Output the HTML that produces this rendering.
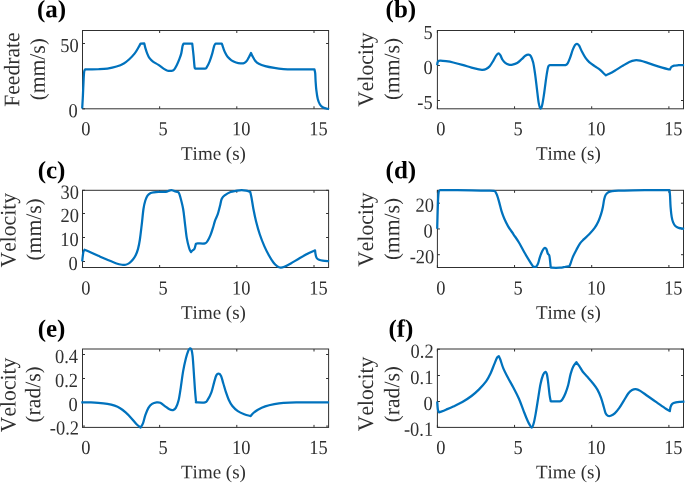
<!DOCTYPE html>
<html><head><meta charset="utf-8"><title>Figure</title>
<style>html,body{margin:0;padding:0;background:#fff}svg{display:block}</style></head>
<body>
<svg width="685" height="483" viewBox="0 0 685 483">
<rect width="685" height="483" fill="#fff"/>
<g font-family="'Liberation Serif', serif" fill="#303030" style="font-kerning:none">
<g stroke="#303030" stroke-width="1" fill="none">
<rect x="82.50" y="30.50" width="246.10" height="78.30"/>
<path d="M82.50 108.80 v-2.50 M82.50 30.50 v2.50 M159.65 108.80 v-2.50 M159.65 30.50 v2.50 M236.80 108.80 v-2.50 M236.80 30.50 v2.50 M314.00 108.80 v-2.50 M314.00 30.50 v2.50 M82.50 108.80 h2.50 M328.60 108.80 h-2.50 M82.50 43.50 h2.50 M328.60 43.50 h-2.50"/>
</g>
<path d="M82.19 108.48 C82.31 106.29 82.68 100.27 82.92 95.34 C83.16 90.42 83.44 82.87 83.65 78.92 C83.86 74.97 83.95 73.20 84.20 71.62 C84.44 70.04 84.96 69.80 85.11 69.43 C86.08 69.43 88.76 69.46 90.95 69.43 C93.14 69.40 95.51 69.40 98.25 69.25 C100.99 69.10 104.33 68.97 107.37 68.52 C110.41 68.06 113.76 67.36 116.50 66.51 C119.23 65.66 121.67 64.63 123.80 63.41 C125.92 62.19 127.45 60.88 129.27 59.21 C131.09 57.54 133.22 55.32 134.74 53.37 C136.27 51.43 137.42 49.18 138.39 47.53 C139.37 45.89 140.22 44.19 140.58 43.52 L144.23 43.34 C144.42 44.10 144.84 46.23 145.33 47.90 C145.82 49.57 146.48 51.70 147.15 53.37 C147.82 55.05 148.37 56.57 149.34 57.93 C150.32 59.30 151.47 60.43 152.99 61.58 C154.51 62.74 156.64 63.65 158.47 64.87 C160.29 66.09 162.42 67.91 163.94 68.88 C165.46 69.86 166.37 70.37 167.59 70.71 C168.81 71.04 170.18 71.04 171.24 70.89 C172.31 70.74 173.07 70.74 173.98 69.80 C174.89 68.85 175.80 67.06 176.72 65.23 C177.63 63.41 178.69 60.82 179.45 58.85 C180.21 56.87 180.76 55.50 181.28 53.37 C181.79 51.24 182.16 47.72 182.55 46.07 C182.95 44.43 183.47 43.94 183.65 43.52 L192.23 43.52 C192.44 45.46 193.11 51.27 193.50 55.20 C193.90 59.12 194.26 64.84 194.60 67.06 C194.93 69.28 195.36 68.27 195.51 68.52 C197.09 68.52 203.11 68.76 205.00 68.52 C206.89 68.27 206.06 68.21 206.82 67.06 C207.59 65.90 208.65 63.86 209.56 61.58 C210.47 59.30 211.54 55.96 212.30 53.37 C213.06 50.79 213.58 47.72 214.12 46.07 C214.67 44.43 215.34 43.94 215.58 43.52 L221.79 43.52 C222.03 44.25 222.70 46.41 223.25 47.90 C223.80 49.39 224.31 50.94 225.07 52.46 C225.83 53.98 226.75 55.71 227.81 57.02 C228.87 58.33 230.09 59.39 231.46 60.31 C232.83 61.22 234.50 61.98 236.02 62.50 C237.54 63.01 239.22 63.32 240.58 63.41 C241.95 63.50 243.17 63.50 244.23 63.04 C245.30 62.59 246.15 61.74 246.97 60.67 C247.79 59.61 248.49 57.93 249.16 56.66 C249.83 55.38 250.68 53.62 250.99 53.01 C251.23 53.52 251.75 54.83 252.45 56.11 C253.14 57.39 254.12 59.39 255.18 60.67 C256.25 61.95 257.16 62.86 258.83 63.77 C260.50 64.69 262.63 65.45 265.22 66.15 C267.80 66.85 271.30 67.48 274.34 67.97 C277.38 68.46 280.43 68.82 283.47 69.07 C286.51 69.31 287.42 69.37 292.59 69.43 C297.76 69.49 310.84 69.43 314.49 69.43 C314.61 70.10 315.04 71.56 315.22 73.45 C315.40 75.33 315.40 78.01 315.58 80.74 C315.77 83.48 315.95 86.83 316.31 89.87 C316.68 92.91 317.17 96.56 317.77 98.99 C318.38 101.43 319.14 103.10 319.96 104.47 C320.78 105.84 321.64 106.54 322.70 107.20 C323.77 107.87 325.29 108.18 326.35 108.48 C327.41 108.79 328.63 108.94 329.09 109.03" fill="none" stroke="#0072BD" stroke-width="2.25" stroke-linejoin="round" stroke-linecap="butt"/>
<text transform="translate(85.95 135.30) rotate(0.05) scale(0.97 1.055)" font-size="19" text-anchor="middle">0</text>
<text transform="translate(163.10 135.30) rotate(0.05) scale(0.97 1.055)" font-size="19" text-anchor="middle">5</text>
<text transform="translate(241.25 135.30) rotate(0.05) scale(0.97 1.055)" font-size="19" text-anchor="middle">10</text>
<text transform="translate(318.45 135.30) rotate(0.05) scale(0.97 1.055)" font-size="19" text-anchor="middle">15</text>
<text transform="translate(77.70 117.25) rotate(0.05) scale(0.97 1.055)" font-size="19" text-anchor="end">0</text>
<text transform="translate(78.80 51.95) rotate(0.05) scale(0.97 1.055)" font-size="19" text-anchor="end">50</text>
<text transform="translate(213.45 159.70) rotate(0.05)" font-size="19" text-anchor="middle">Time (s)</text>
<text transform="translate(19.20 69.60) rotate(-90.05) scale(0.975 1)" font-size="22.2" text-anchor="middle">Feedrate</text>
<text transform="translate(44.80 69.30) rotate(-90.05) scale(0.975 1)" font-size="22.2" text-anchor="middle"><tspan font-size="20.868" dy="-0.4">(</tspan><tspan dy="0.4" dx="0.2">mm/s</tspan><tspan font-size="20.868" dy="-0.4" dx="0.2">)</tspan></text>
<text transform="translate(51.50 17.20) rotate(0.05)" font-size="25" font-weight="bold" fill="#000" text-anchor="middle">(a)</text>
<g stroke="#303030" stroke-width="1" fill="none">
<rect x="437.40" y="30.50" width="246.10" height="78.30"/>
<path d="M437.40 108.80 v-2.50 M437.40 30.50 v2.50 M514.55 108.80 v-2.50 M514.55 30.50 v2.50 M591.70 108.80 v-2.50 M591.70 30.50 v2.50 M668.90 108.80 v-2.50 M668.90 30.50 v2.50 M437.40 100.50 h2.50 M683.50 100.50 h-2.50 M437.40 65.50 h2.50 M683.50 65.50 h-2.50 M437.40 30.50 h2.50 M683.50 30.50 h-2.50"/>
</g>
<path d="M437.19 65.23 C437.25 64.78 437.37 63.20 437.55 62.50 C437.74 61.80 438.16 61.28 438.28 61.04 C438.65 60.98 439.20 60.64 440.47 60.67 C441.75 60.70 443.82 60.91 445.95 61.22 C448.08 61.52 450.51 61.89 453.25 62.50 C455.99 63.10 459.33 64.02 462.37 64.87 C465.41 65.72 468.76 66.85 471.50 67.61 C474.23 68.37 476.97 69.07 478.80 69.43 C480.62 69.80 481.23 69.89 482.45 69.80 C483.66 69.70 484.88 69.49 486.09 68.88 C487.31 68.27 488.53 67.51 489.74 66.15 C490.96 64.78 492.33 62.44 493.39 60.67 C494.46 58.91 495.28 56.78 496.13 55.56 C496.98 54.35 497.80 53.43 498.50 53.37 C499.20 53.31 499.66 54.13 500.33 55.20 C501.00 56.26 501.70 58.48 502.52 59.76 C503.34 61.04 504.19 62.04 505.26 62.86 C506.32 63.68 507.69 64.38 508.91 64.69 C510.12 64.99 511.19 64.96 512.55 64.69 C513.92 64.41 515.60 63.96 517.12 63.04 C518.64 62.13 520.31 60.43 521.68 59.21 C523.05 58.00 524.20 56.50 525.33 55.74 C526.45 54.98 527.52 54.59 528.43 54.65 C529.34 54.71 530.01 54.80 530.80 56.11 C531.59 57.42 532.48 59.61 533.18 62.50 C533.87 65.39 534.39 69.19 535.00 73.45 C535.61 77.70 536.22 83.18 536.82 88.04 C537.43 92.91 538.04 99.24 538.65 102.64 C539.26 106.05 539.87 108.18 540.47 108.48 C541.08 108.79 541.69 106.96 542.30 104.47 C542.91 101.97 543.45 98.08 544.12 93.52 C544.79 88.96 545.64 81.50 546.31 77.09 C546.98 72.68 547.59 69.04 548.14 67.06 C548.69 65.08 549.36 65.54 549.60 65.23 C551.33 65.20 557.35 65.08 560.00 65.05 C562.65 65.02 564.20 65.32 565.47 65.05 C566.75 64.78 566.90 64.59 567.66 63.41 C568.42 62.22 569.18 60.22 570.04 57.93 C570.89 55.65 571.95 51.85 572.77 49.72 C573.59 47.59 574.26 46.13 574.96 45.16 C575.66 44.19 576.27 43.79 576.97 43.88 C577.67 43.97 578.34 44.43 579.16 45.71 C579.98 46.99 580.83 49.51 581.90 51.55 C582.96 53.59 584.33 56.17 585.55 57.93 C586.76 59.70 587.68 60.76 589.20 62.13 C590.72 63.50 592.85 64.87 594.67 66.15 C596.50 67.42 598.63 68.58 600.15 69.80 C601.67 71.01 602.82 72.53 603.80 73.45 C604.77 74.36 605.62 74.97 605.99 75.27 C606.53 75.03 607.81 74.57 609.27 73.81 C610.73 73.05 612.62 71.99 614.74 70.71 C616.87 69.43 619.61 67.61 622.04 66.15 C624.48 64.69 627.21 62.92 629.34 61.95 C631.47 60.98 632.99 60.52 634.82 60.31 C636.64 60.09 638.16 60.25 640.29 60.67 C642.42 61.10 645.16 62.07 647.59 62.86 C650.02 63.65 652.46 64.63 654.89 65.42 C657.32 66.21 660.06 67.00 662.19 67.61 C664.32 68.21 666.36 68.76 667.66 69.07 C668.97 69.37 669.64 69.37 670.04 69.43 C670.25 69.04 670.64 67.70 671.31 67.06 C671.98 66.42 672.83 65.90 674.05 65.60 C675.27 65.29 676.94 65.32 678.61 65.23 C680.29 65.14 683.18 65.08 684.09 65.05" fill="none" stroke="#0072BD" stroke-width="2.25" stroke-linejoin="round" stroke-linecap="butt"/>
<text transform="translate(440.85 135.30) rotate(0.05) scale(0.97 1.055)" font-size="19" text-anchor="middle">0</text>
<text transform="translate(518.00 135.30) rotate(0.05) scale(0.97 1.055)" font-size="19" text-anchor="middle">5</text>
<text transform="translate(596.15 135.30) rotate(0.05) scale(0.97 1.055)" font-size="19" text-anchor="middle">10</text>
<text transform="translate(673.35 135.30) rotate(0.05) scale(0.97 1.055)" font-size="19" text-anchor="middle">15</text>
<text transform="translate(432.60 108.95) rotate(0.05) scale(0.97 1.055)" font-size="19" text-anchor="end">-5</text>
<text transform="translate(432.60 73.95) rotate(0.05) scale(0.97 1.055)" font-size="19" text-anchor="end">0</text>
<text transform="translate(432.60 38.95) rotate(0.05) scale(0.97 1.055)" font-size="19" text-anchor="end">5</text>
<text transform="translate(568.35 159.70) rotate(0.05)" font-size="19" text-anchor="middle">Time (s)</text>
<text transform="translate(373.00 69.60) rotate(-90.05) scale(0.975 1)" font-size="22.2" text-anchor="middle">Velocity</text>
<text transform="translate(399.20 69.10) rotate(-90.05) scale(0.975 1)" font-size="22.2" text-anchor="middle"><tspan font-size="20.868" dy="-0.4">(</tspan><tspan dy="0.4" dx="0.2">mm/s</tspan><tspan font-size="20.868" dy="-0.4" dx="0.2">)</tspan></text>
<text transform="translate(400.90 17.20) rotate(0.05)" font-size="25" font-weight="bold" fill="#000" text-anchor="middle">(b)</text>
<g stroke="#303030" stroke-width="1" fill="none">
<rect x="82.50" y="190.30" width="246.10" height="77.20"/>
<path d="M82.50 267.50 v-2.50 M82.50 190.30 v2.50 M159.65 267.50 v-2.50 M159.65 190.30 v2.50 M236.80 267.50 v-2.50 M236.80 190.30 v2.50 M314.00 267.50 v-2.50 M314.00 190.30 v2.50 M82.50 261.50 h2.50 M328.60 261.50 h-2.50 M82.50 237.50 h2.50 M328.60 237.50 h-2.50 M82.50 213.50 h2.50 M328.60 213.50 h-2.50 M82.50 190.30 h2.50 M328.60 190.30 h-2.50"/>
</g>
<path d="M82.19 261.28 C82.37 259.82 82.89 254.43 83.28 252.52 C83.68 250.60 84.35 250.24 84.56 249.78 C85.63 250.24 88.67 251.51 90.95 252.52 C93.23 253.52 95.51 254.59 98.25 255.80 C100.99 257.02 104.33 258.54 107.37 259.82 C110.41 261.09 114.06 262.65 116.50 263.47 C118.93 264.29 120.45 264.53 121.97 264.74 C123.49 264.96 124.40 265.02 125.62 264.74 C126.84 264.47 128.05 263.98 129.27 263.10 C130.49 262.22 131.86 260.76 132.92 259.45 C133.98 258.14 134.81 257.02 135.66 255.26 C136.51 253.49 137.33 251.45 138.03 248.87 C138.73 246.28 139.25 243.70 139.85 239.74 C140.46 235.79 141.07 230.32 141.68 225.15 C142.29 219.98 142.90 212.83 143.50 208.72 C144.11 204.62 144.66 202.70 145.33 200.51 C146.00 198.32 146.70 196.80 147.52 195.58 C148.34 194.37 149.19 193.76 150.26 193.21 C151.32 192.66 152.54 192.51 153.91 192.30 C155.27 192.09 156.49 192.00 158.47 191.93 C160.44 191.87 164.09 192.12 165.77 191.93 C167.44 191.75 167.59 191.14 168.50 190.84 C169.42 190.54 170.33 190.11 171.24 190.11 C172.15 190.11 172.76 190.47 173.98 190.84 C175.19 191.20 177.78 192.06 178.54 192.30 C178.78 192.91 179.24 193.21 180.00 195.95 C180.76 198.69 182.28 204.16 183.10 208.72 C183.92 213.28 184.32 218.45 184.93 223.32 C185.54 228.19 186.05 233.81 186.75 237.92 C187.45 242.03 188.42 245.58 189.12 247.96 C189.82 250.33 190.64 251.45 190.95 252.15 C191.25 251.85 192.17 250.94 192.77 250.33 C193.38 249.72 194.08 249.60 194.60 248.50 C195.12 247.41 195.66 244.55 195.88 243.76 C196.18 243.70 196.18 243.45 197.70 243.39 C199.22 243.33 203.33 243.85 205.00 243.39 C206.67 242.94 206.82 242.03 207.74 240.66 C208.65 239.29 209.56 237.46 210.47 235.18 C211.39 232.90 212.45 229.40 213.21 226.97 C213.97 224.54 214.28 222.71 215.04 220.58 C215.80 218.45 216.95 216.63 217.77 214.20 C218.59 211.76 219.29 208.57 219.96 205.99 C220.63 203.40 220.94 200.51 221.79 198.69 C222.64 196.86 223.61 196.16 225.07 195.04 C226.53 193.91 228.72 192.63 230.55 191.93 C232.37 191.23 234.20 191.14 236.02 190.84 C237.85 190.54 239.82 190.14 241.50 190.11 C243.17 190.08 244.60 190.35 246.06 190.66 C247.52 190.96 249.56 191.72 250.26 191.93 C250.47 192.91 251.02 194.98 251.53 197.77 C252.05 200.57 252.60 204.77 253.36 208.72 C254.12 212.68 255.03 217.24 256.09 221.50 C257.16 225.75 258.38 230.16 259.74 234.27 C261.11 238.38 262.79 242.63 264.31 246.13 C265.83 249.63 267.35 252.52 268.87 255.26 C270.39 257.99 272.06 260.73 273.43 262.55 C274.80 264.38 275.86 265.35 277.08 266.20 C278.30 267.06 279.51 267.57 280.73 267.66 C281.95 267.76 282.71 267.45 284.38 266.75 C286.05 266.05 288.18 264.93 290.77 263.47 C293.35 262.01 296.85 259.73 299.89 257.99 C302.93 256.26 306.49 254.34 309.01 253.07 C311.54 251.79 314.03 250.78 315.04 250.33 C315.13 251.00 315.31 253.07 315.58 254.34 C315.86 255.62 316.10 257.08 316.68 257.99 C317.26 258.91 318.05 259.36 319.05 259.82 C320.05 260.27 321.03 260.52 322.70 260.73 C324.37 260.94 328.02 261.03 329.09 261.09" fill="none" stroke="#0072BD" stroke-width="2.25" stroke-linejoin="round" stroke-linecap="butt"/>
<text transform="translate(85.95 294.40) rotate(0.05) scale(0.97 1.055)" font-size="19" text-anchor="middle">0</text>
<text transform="translate(163.10 294.40) rotate(0.05) scale(0.97 1.055)" font-size="19" text-anchor="middle">5</text>
<text transform="translate(241.25 294.40) rotate(0.05) scale(0.97 1.055)" font-size="19" text-anchor="middle">10</text>
<text transform="translate(318.45 294.40) rotate(0.05) scale(0.97 1.055)" font-size="19" text-anchor="middle">15</text>
<text transform="translate(77.70 269.95) rotate(0.05) scale(0.97 1.055)" font-size="19" text-anchor="end">0</text>
<text transform="translate(78.80 245.95) rotate(0.05) scale(0.97 1.055)" font-size="19" text-anchor="end">10</text>
<text transform="translate(78.90 221.95) rotate(0.05) scale(0.97 1.055)" font-size="19" text-anchor="end">20</text>
<text transform="translate(78.90 198.75) rotate(0.05) scale(0.97 1.055)" font-size="19" text-anchor="end">30</text>
<text transform="translate(213.45 318.70) rotate(0.05)" font-size="19" text-anchor="middle">Time (s)</text>
<text transform="translate(15.50 230.20) rotate(-90.05) scale(0.975 1)" font-size="22.2" text-anchor="middle">Velocity</text>
<text transform="translate(41.00 229.40) rotate(-90.05) scale(0.975 1)" font-size="22.2" text-anchor="middle"><tspan font-size="20.868" dy="-0.4">(</tspan><tspan dy="0.4" dx="0.2">mm/s</tspan><tspan font-size="20.868" dy="-0.4" dx="0.2">)</tspan></text>
<text transform="translate(51.50 178.30) rotate(0.05)" font-size="25" font-weight="bold" fill="#000" text-anchor="middle">(c)</text>
<g stroke="#303030" stroke-width="1" fill="none">
<rect x="437.40" y="190.30" width="246.10" height="77.20"/>
<path d="M437.40 267.50 v-2.50 M437.40 190.30 v2.50 M514.55 267.50 v-2.50 M514.55 190.30 v2.50 M591.70 267.50 v-2.50 M591.70 190.30 v2.50 M668.90 267.50 v-2.50 M668.90 190.30 v2.50 M437.40 254.70 h2.50 M683.50 254.70 h-2.50 M437.40 228.95 h2.50 M683.50 228.95 h-2.50 M437.40 203.20 h2.50 M683.50 203.20 h-2.50"/>
</g>
<path d="M437.19 228.80 C437.31 224.54 437.68 209.33 437.92 203.25 C438.16 197.17 438.28 194.49 438.65 192.30 C439.01 190.11 439.87 190.47 440.11 190.11 C445.34 190.14 463.22 190.20 471.50 190.29 C479.77 190.38 485.85 190.54 489.74 190.66 C493.64 190.78 494.00 190.96 494.85 191.02 C495.22 191.69 496.31 193.15 497.04 195.04 C497.77 196.92 498.47 199.60 499.23 202.34 C499.99 205.07 500.75 208.72 501.61 211.46 C502.46 214.20 503.28 216.33 504.34 218.76 C505.41 221.19 506.47 223.47 507.99 226.06 C509.51 228.64 511.64 231.53 513.47 234.27 C515.29 237.01 517.12 239.44 518.94 242.48 C520.77 245.52 522.59 249.32 524.42 252.52 C526.24 255.71 528.43 259.27 529.89 261.64 C531.35 264.01 532.63 265.90 533.18 266.75 L536.28 266.75 C536.58 266.20 537.49 265.08 538.10 263.47 C538.71 261.86 539.23 259.15 539.93 257.08 C540.63 255.01 541.54 252.58 542.30 251.06 C543.06 249.54 543.82 248.32 544.49 247.96 C545.16 247.59 545.77 247.96 546.31 248.87 C546.86 249.78 547.29 252.37 547.77 253.43 C548.26 254.50 548.87 254.19 549.23 255.26 C549.60 256.32 549.72 257.84 549.96 259.82 C550.21 261.79 550.57 265.90 550.69 267.12 C550.88 267.21 550.24 267.57 551.79 267.66 C553.34 267.76 557.72 267.82 560.00 267.66 C562.28 267.51 563.89 267.00 565.47 266.75 C567.06 266.51 568.82 266.30 569.49 266.20 C569.67 265.75 570.04 264.99 570.58 263.47 C571.13 261.95 571.80 259.36 572.77 257.08 C573.75 254.80 575.21 252.06 576.42 249.78 C577.64 247.50 578.86 245.13 580.07 243.39 C581.29 241.66 582.20 240.90 583.72 239.38 C585.24 237.86 587.37 236.19 589.20 234.27 C591.02 232.35 593.15 230.01 594.67 227.88 C596.19 225.75 597.26 223.78 598.32 221.50 C599.39 219.22 600.30 216.63 601.06 214.20 C601.82 211.76 602.37 209.33 602.88 206.90 C603.40 204.46 603.70 201.58 604.16 199.60 C604.62 197.62 604.92 196.25 605.62 195.04 C606.32 193.82 607.29 192.94 608.36 192.30 C609.42 191.66 610.33 191.48 612.01 191.20 C613.68 190.93 614.90 190.81 618.39 190.66 C621.89 190.50 627.52 190.38 632.99 190.29 C638.47 190.20 645.16 190.14 651.24 190.11 C657.32 190.08 666.45 190.11 669.49 190.11 C669.58 191.08 669.85 193.15 670.04 195.95 C670.22 198.75 670.31 203.40 670.58 206.90 C670.86 210.40 671.25 214.35 671.68 216.93 C672.10 219.52 672.53 220.89 673.14 222.41 C673.75 223.93 674.42 225.15 675.33 226.06 C676.24 226.97 677.15 227.43 678.61 227.88 C680.07 228.34 683.18 228.64 684.09 228.80" fill="none" stroke="#0072BD" stroke-width="2.25" stroke-linejoin="round" stroke-linecap="butt"/>
<text transform="translate(440.85 294.40) rotate(0.05) scale(0.97 1.055)" font-size="19" text-anchor="middle">0</text>
<text transform="translate(518.00 294.40) rotate(0.05) scale(0.97 1.055)" font-size="19" text-anchor="middle">5</text>
<text transform="translate(596.15 294.40) rotate(0.05) scale(0.97 1.055)" font-size="19" text-anchor="middle">10</text>
<text transform="translate(673.35 294.40) rotate(0.05) scale(0.97 1.055)" font-size="19" text-anchor="middle">15</text>
<text transform="translate(434.25 263.15) rotate(0.05) scale(0.97 1.055)" font-size="19" text-anchor="end">-20</text>
<text transform="translate(432.60 237.40) rotate(0.05) scale(0.97 1.055)" font-size="19" text-anchor="end">0</text>
<text transform="translate(433.96 211.65) rotate(0.05) scale(0.97 1.055)" font-size="19" text-anchor="end">20</text>
<text transform="translate(568.35 318.70) rotate(0.05)" font-size="19" text-anchor="middle">Time (s)</text>
<text transform="translate(373.00 229.60) rotate(-90.05) scale(0.975 1)" font-size="22.2" text-anchor="middle">Velocity</text>
<text transform="translate(399.20 229.10) rotate(-90.05) scale(0.975 1)" font-size="22.2" text-anchor="middle"><tspan font-size="20.868" dy="-0.4">(</tspan><tspan dy="0.4" dx="0.2">mm/s</tspan><tspan font-size="20.868" dy="-0.4" dx="0.2">)</tspan></text>
<text transform="translate(400.90 178.30) rotate(0.05)" font-size="25" font-weight="bold" fill="#000" text-anchor="middle">(d)</text>
<g stroke="#303030" stroke-width="1" fill="none">
<rect x="82.50" y="349.00" width="246.10" height="78.40"/>
<path d="M82.50 427.40 v-2.50 M82.50 349.00 v2.50 M159.65 427.40 v-2.50 M159.65 349.00 v2.50 M236.80 427.40 v-2.50 M236.80 349.00 v2.50 M314.00 427.40 v-2.50 M314.00 349.00 v2.50 M82.50 426.10 h2.50 M328.60 426.10 h-2.50 M82.50 402.50 h2.50 M328.60 402.50 h-2.50 M82.50 378.50 h2.50 M328.60 378.50 h-2.50 M82.50 354.50 h2.50 M328.60 354.50 h-2.50"/>
</g>
<path d="M81.28 402.39 C82.89 402.39 88.12 402.33 90.95 402.39 C93.78 402.45 95.51 402.52 98.25 402.76 C100.99 403.00 104.64 403.37 107.37 403.85 C110.11 404.34 112.54 404.95 114.67 405.68 C116.80 406.41 118.32 407.11 120.15 408.23 C121.97 409.36 123.80 410.82 125.62 412.43 C127.45 414.04 129.27 415.93 131.09 417.91 C132.92 419.88 134.99 422.68 136.57 424.29 C138.15 425.90 139.91 427.03 140.58 427.58 C140.98 426.88 142.17 425.45 142.96 423.38 C143.75 421.31 144.42 417.75 145.33 415.17 C146.24 412.58 147.31 409.75 148.43 407.87 C149.56 405.98 150.71 404.77 152.08 403.85 C153.45 402.94 155.27 402.58 156.64 402.39 C158.01 402.21 158.92 402.15 160.29 402.76 C161.66 403.37 163.33 404.95 164.85 406.04 C166.37 407.14 168.05 408.66 169.42 409.33 C170.78 410.00 172.00 410.30 173.07 410.06 C174.13 409.82 174.89 409.45 175.80 407.87 C176.72 406.29 177.72 403.91 178.54 400.57 C179.36 397.22 179.97 392.66 180.73 387.80 C181.49 382.93 182.25 376.24 183.10 371.37 C183.95 366.51 185.02 361.94 185.84 358.60 C186.66 355.25 187.45 352.91 188.03 351.30 C188.61 349.69 188.88 349.38 189.31 348.93 C189.73 348.47 190.19 348.32 190.58 348.56 C190.98 348.81 191.34 349.17 191.68 350.39 C192.01 351.60 192.29 352.97 192.59 355.86 C192.90 358.75 193.11 362.10 193.50 367.72 C193.90 373.35 194.54 383.90 194.96 389.62 C195.39 395.34 195.88 399.96 196.06 402.03 C196.18 402.09 195.30 402.33 196.79 402.39 C198.28 402.45 203.18 402.85 205.00 402.39 C206.82 401.94 206.67 401.33 207.74 399.66 C208.80 397.98 210.32 395.25 211.39 392.36 C212.45 389.47 213.30 385.15 214.12 382.32 C214.95 379.49 215.55 376.85 216.31 375.39 C217.07 373.93 217.90 373.47 218.69 373.56 C219.48 373.65 220.30 374.32 221.06 375.93 C221.82 377.55 222.43 380.50 223.25 383.23 C224.07 385.97 225.07 389.62 225.99 392.36 C226.90 395.09 227.66 397.38 228.72 399.66 C229.79 401.94 230.85 404.13 232.37 406.04 C233.89 407.96 235.87 409.78 237.85 411.15 C239.82 412.52 242.10 413.43 244.23 414.26 C246.36 415.08 249.56 415.78 250.62 416.08 C251.08 415.56 252.14 414.04 253.36 412.98 C254.57 411.91 255.94 410.79 257.92 409.69 C259.90 408.60 262.48 407.32 265.22 406.41 C267.96 405.50 271.30 404.80 274.34 404.22 C277.38 403.64 279.82 403.25 283.47 402.94 C287.12 402.64 288.64 402.49 296.24 402.39 C303.84 402.30 323.61 402.39 329.09 402.39" fill="none" stroke="#0072BD" stroke-width="2.25" stroke-linejoin="round" stroke-linecap="butt"/>
<text transform="translate(85.95 453.90) rotate(0.05) scale(0.97 1.055)" font-size="19" text-anchor="middle">0</text>
<text transform="translate(163.10 453.90) rotate(0.05) scale(0.97 1.055)" font-size="19" text-anchor="middle">5</text>
<text transform="translate(241.25 453.90) rotate(0.05) scale(0.97 1.055)" font-size="19" text-anchor="middle">10</text>
<text transform="translate(318.45 453.90) rotate(0.05) scale(0.97 1.055)" font-size="19" text-anchor="middle">15</text>
<text transform="translate(79.00 434.55) rotate(0.05) scale(0.97 1.055)" font-size="19" text-anchor="end">-0.2</text>
<text transform="translate(77.70 410.95) rotate(0.05) scale(0.97 1.055)" font-size="19" text-anchor="end">0</text>
<text transform="translate(78.05 386.95) rotate(0.05) scale(0.97 1.055)" font-size="19" text-anchor="end">0.2</text>
<text transform="translate(78.05 362.95) rotate(0.05) scale(0.97 1.055)" font-size="19" text-anchor="end">0.4</text>
<text transform="translate(213.45 478.30) rotate(0.05)" font-size="19" text-anchor="middle">Time (s)</text>
<text transform="translate(15.50 394.90) rotate(-90.05) scale(0.975 1)" font-size="22.2" text-anchor="middle">Velocity</text>
<text transform="translate(40.30 394.40) rotate(-90.05) scale(0.975 1)" font-size="22.2" text-anchor="middle"><tspan font-size="20.868" dy="-0.4">(</tspan><tspan dy="0.4" dx="0.2">rad/s</tspan><tspan font-size="20.868" dy="-0.4" dx="0.2">)</tspan></text>
<text transform="translate(51.50 336.80) rotate(0.05)" font-size="25" font-weight="bold" fill="#000" text-anchor="middle">(e)</text>
<g stroke="#303030" stroke-width="1" fill="none">
<rect x="437.40" y="349.00" width="246.10" height="78.40"/>
<path d="M437.40 427.40 v-2.50 M437.40 349.00 v2.50 M514.55 427.40 v-2.50 M514.55 349.00 v2.50 M591.70 427.40 v-2.50 M591.70 349.00 v2.50 M668.90 427.40 v-2.50 M668.90 349.00 v2.50 M437.40 427.30 h2.50 M683.50 427.30 h-2.50 M437.40 401.50 h2.50 M683.50 401.50 h-2.50 M437.40 375.50 h2.50 M683.50 375.50 h-2.50 M437.40 349.30 h2.50 M683.50 349.30 h-2.50"/>
</g>
<path d="M437.19 401.48 C437.31 402.85 437.62 407.87 437.92 409.69 C438.22 411.52 438.83 411.97 439.01 412.43 C440.17 411.97 443.58 410.67 445.95 409.69 C448.32 408.72 450.51 407.87 453.25 406.59 C455.99 405.31 459.33 403.79 462.37 402.03 C465.41 400.27 468.76 398.08 471.50 396.01 C474.23 393.94 476.36 392.05 478.80 389.62 C481.23 387.19 484.12 384.15 486.09 381.41 C488.07 378.67 489.29 376.09 490.66 373.20 C492.03 370.31 493.24 366.66 494.31 364.07 C495.37 361.49 496.28 358.99 497.04 357.69 C497.80 356.38 498.56 356.47 498.87 356.23 C499.11 356.77 499.57 357.44 500.33 359.51 C501.09 361.58 502.15 365.59 503.43 368.64 C504.71 371.68 506.32 374.57 507.99 377.76 C509.67 380.95 511.64 384.30 513.47 387.80 C515.29 391.29 517.27 394.94 518.94 398.74 C520.61 402.55 522.14 407.11 523.50 410.61 C524.87 414.10 526.09 417.30 527.15 419.73 C528.22 422.16 529.07 423.93 529.89 425.20 C530.71 426.48 531.41 427.85 532.08 427.39 C532.75 426.94 533.30 424.81 533.91 422.47 C534.51 420.13 535.03 417.30 535.73 413.34 C536.43 409.39 537.31 403.61 538.10 398.74 C538.89 393.88 539.65 388.10 540.47 384.15 C541.30 380.19 542.21 377.06 543.03 375.02 C543.85 372.98 544.76 372.07 545.40 371.92 C546.04 371.77 546.41 372.38 546.86 374.11 C547.32 375.84 547.68 378.82 548.14 382.32 C548.59 385.82 549.17 391.99 549.60 395.09 C550.02 398.20 550.51 399.96 550.69 400.93 C550.88 401.00 550.24 401.24 551.79 401.30 C553.34 401.36 558.18 401.73 560.00 401.30 C561.82 400.87 561.82 400.08 562.74 398.74 C563.65 397.41 564.56 395.55 565.47 393.27 C566.39 390.99 567.36 388.25 568.21 385.06 C569.06 381.86 569.76 377.15 570.58 374.11 C571.41 371.07 572.17 368.79 573.14 366.81 C574.11 364.83 575.88 363.01 576.42 362.25 C576.88 362.86 578.10 364.32 579.16 365.90 C580.23 367.48 581.44 369.91 582.81 371.74 C584.18 373.56 585.70 374.93 587.37 376.85 C589.05 378.76 591.17 381.10 592.85 383.23 C594.52 385.36 596.04 387.19 597.41 389.62 C598.78 392.05 599.99 394.94 601.06 397.83 C602.12 400.72 603.04 404.37 603.80 406.96 C604.56 409.54 604.95 411.88 605.62 413.34 C606.29 414.80 606.96 415.32 607.81 415.72 C608.66 416.11 609.57 416.11 610.73 415.72 C611.89 415.32 613.32 414.65 614.74 413.34 C616.17 412.04 617.79 410.00 619.31 407.87 C620.83 405.74 622.35 403.00 623.87 400.57 C625.39 398.14 627.06 395.03 628.43 393.27 C629.80 391.51 630.86 390.68 632.08 389.99 C633.30 389.29 634.36 388.92 635.73 389.07 C637.10 389.23 638.32 389.74 640.29 390.90 C642.27 392.05 644.85 394.09 647.59 396.01 C650.33 397.92 653.67 400.27 656.72 402.39 C659.76 404.52 663.65 407.32 665.84 408.78 C668.03 410.24 669.18 410.76 669.85 411.15 C669.98 410.45 670.19 408.17 670.58 406.96 C670.98 405.74 671.34 404.61 672.23 403.85 C673.11 403.09 674.51 402.73 675.88 402.39 C677.24 402.06 679.01 401.97 680.44 401.85 C681.87 401.73 683.78 401.69 684.45 401.66" fill="none" stroke="#0072BD" stroke-width="2.25" stroke-linejoin="round" stroke-linecap="butt"/>
<text transform="translate(440.85 453.90) rotate(0.05) scale(0.97 1.055)" font-size="19" text-anchor="middle">0</text>
<text transform="translate(518.00 453.90) rotate(0.05) scale(0.97 1.055)" font-size="19" text-anchor="middle">5</text>
<text transform="translate(596.15 453.90) rotate(0.05) scale(0.97 1.055)" font-size="19" text-anchor="middle">10</text>
<text transform="translate(673.35 453.90) rotate(0.05) scale(0.97 1.055)" font-size="19" text-anchor="middle">15</text>
<text transform="translate(433.10 435.75) rotate(0.05) scale(0.97 1.055)" font-size="19" text-anchor="end">-0.1</text>
<text transform="translate(432.60 409.95) rotate(0.05) scale(0.97 1.055)" font-size="19" text-anchor="end">0</text>
<text transform="translate(433.40 383.95) rotate(0.05) scale(0.97 1.055)" font-size="19" text-anchor="end">0.1</text>
<text transform="translate(433.60 357.75) rotate(0.05) scale(0.97 1.055)" font-size="19" text-anchor="end">0.2</text>
<text transform="translate(568.35 478.30) rotate(0.05)" font-size="19" text-anchor="middle">Time (s)</text>
<text transform="translate(373.00 394.00) rotate(-90.05) scale(0.975 1)" font-size="22.2" text-anchor="middle">Velocity</text>
<text transform="translate(399.20 394.20) rotate(-90.05) scale(0.975 1)" font-size="22.2" text-anchor="middle"><tspan font-size="20.868" dy="-0.4">(</tspan><tspan dy="0.4" dx="0.2">rad/s</tspan><tspan font-size="20.868" dy="-0.4" dx="0.2">)</tspan></text>
<text transform="translate(400.90 336.80) rotate(0.05)" font-size="25" font-weight="bold" fill="#000" text-anchor="middle">(f)</text>
</g></svg>
</body></html>
